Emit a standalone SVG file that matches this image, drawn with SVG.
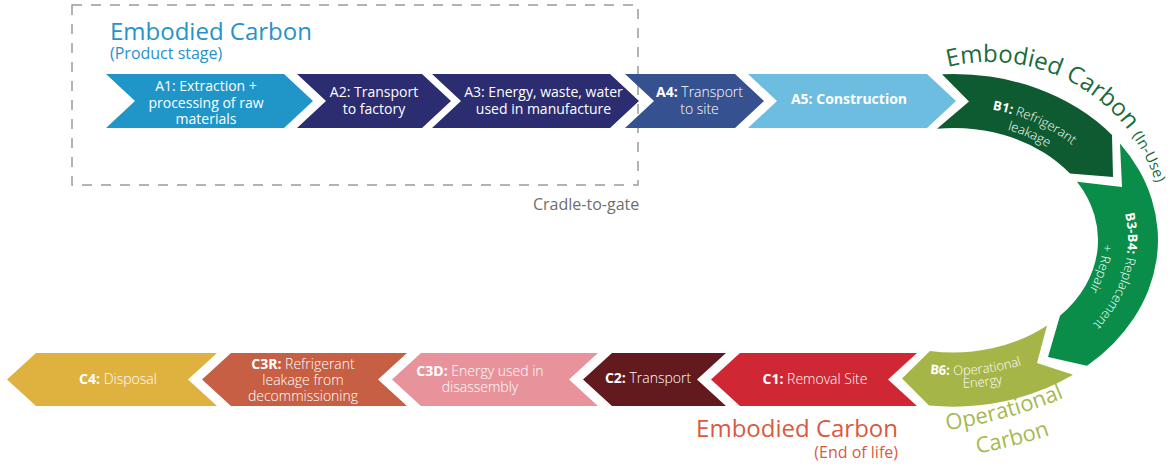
<svg xmlns="http://www.w3.org/2000/svg" width="1175" height="475" viewBox="0 0 1175 475">
<style>
text { font-family: 'Open Sans', 'Liberation Sans', sans-serif; }
.w { fill: #ffffff; font-size: 14px; text-anchor: middle; }
.wa { fill: #ffffff; font-size: 13px; text-anchor: middle; }
.b { font-weight: 700; }
.l { font-weight: 300; }
.big { font-size: 24px; }
.small { font-size: 16px; }
.op { font-size: 22px; fill: #a6b94f; text-anchor: middle; }
</style>
<defs>
<path id="pTitle" d="M948,67.1 A174,174 0 0 1 1159.4,275.5"/>
<path id="pB1a" d="M937.7,106.6 A168,134 0 0 1 1103.9,179.6"/>
<path id="pB1b" d="M941.9,122.4 A151,118 0 0 1 1089.9,188.6"/>
<path id="pB3a" d="M1116.7,190.4 A174,140 0 0 1 1070.4,344.1"/>
<path id="pB3b" d="M1093.3,197.8 A149,119 0 0 1 1053.7,328.4"/>
<path id="pB6a" d="M873,360.5 A180,135 0 0 0 1074.5,340.3"/>
<path id="pB6b" d="M906.1,383.5 A196,148 0 0 0 1057.1,365.9"/>
<path id="pOp1" d="M932.5,432 A500,500 0 0 0 1077.5,392"/>
<path id="pOp2" d="M968.3,454.9 A500,500 0 0 0 1058.7,432.1"/>
</defs>

<g id="cradle-to-gate">
<rect x="72" y="5" width="566" height="180" fill="none" stroke="#9a9a9a" stroke-width="1.5" stroke-dasharray="10 9"/>
<text x="533" y="209.5" font-size="16" fill="#6e6e6e">Cradle-to-gate</text>
</g>

<g id="title-product">
<text x="110" y="40" class="big" fill="#2593c9">Embodied Carbon</text>
<text x="110" y="59" class="small" fill="#2593c9">(Product stage)</text>
</g>

<g id="A1">
<path d="M106,74 H284 L313,101 L284,128 H106 L135,101 Z" fill="#1f95c8"/>
<text class="w" x="206" y="91">A1: Extraction +</text>
<text class="w" x="206" y="107.5">processing of raw</text>
<text class="w" x="206" y="124">materials</text>
</g>
<g id="A2">
<path d="M297,74 H422 L451,101 L422,128 H297 L326,101 Z" fill="#2c2d70"/>
<text class="w" x="374" y="97">A2: Transport</text>
<text class="w" x="374" y="113.5">to factory</text>
</g>
<g id="A3">
<path d="M432,74 H610 L639,101 L610,128 H432 L461,101 Z" fill="#2c2d70"/>
<text class="w" x="543.5" y="97">A3: Energy, waste, water</text>
<text class="w" x="543.5" y="113.5">used in manufacture</text>
</g>
<g id="A4">
<path d="M625,74 H735 L764,101 L735,128 H625 L654,101 Z" fill="#36518f"/>
<text class="w" x="699.5" y="97"><tspan class="b">A4:</tspan><tspan class="l"> Transport</tspan></text>
<text class="w l" x="699.5" y="113.5">to site</text>
</g>
<g id="A5">
<path d="M748,74 H927 L956,101 L927,128 H748 L777,101 Z" fill="#6dbde0"/>
<text class="w b" x="849" y="103.5">A5: Construction</text>
</g>

<g id="title-in-use">
<text fill="#1b6b3a"><textPath href="#pTitle"><tspan font-size="24">Embodied Carbon </tspan><tspan font-size="15">(In-Use)</tspan></textPath></text>
</g>

<g id="B1">
<path d="M942,74.3 A204,166 0 0 1 1112,135 L1113,177 L1070,173.6 A144,112 0 0 0 937,128.8 L969,101.5 Z" fill="#0f5b31"/>
<text class="wa"><textPath href="#pB1a" startOffset="52%"><tspan class="b">B1:</tspan><tspan class="l"> Refrigerant</tspan></textPath></text>
<text class="wa l"><textPath href="#pB1b" startOffset="52%">leakage</textPath></text>
</g>
<g id="B3-B4">
<path d="M1120,143.5 A204,166 0 0 1 1087,365.8 L1048,357 L1060,315.8 A144,112 0 0 0 1077,181.7 L1122,187 Z" fill="#0a8d48"/>
<text class="wa"><textPath href="#pB3a" startOffset="48.5%"><tspan class="b">B3-B4:</tspan><tspan class="l"> Replacement</tspan></textPath></text>
<text class="wa l"><textPath href="#pB3b" startOffset="48.5%">+ Repair</textPath></text>
</g>
<g id="B6">
<path d="M1073,374.8 A204,166 0 0 1 929,405.5 L902,378.5 L930,351 A144,112 0 0 0 1047,325.5 L1037,363 Z" fill="#a6b547"/>
<text class="wa" font-size="13.5"><textPath href="#pB6a" startOffset="50%"><tspan class="b">B6:</tspan><tspan class="l"> Operational</tspan></textPath></text>
<text class="wa l" font-size="13.5"><textPath href="#pB6b" startOffset="50%">Energy</textPath></text>
</g>

<g id="title-operational">
<text class="op"><textPath href="#pOp1" startOffset="50%">Operational</textPath></text>
<text class="op"><textPath href="#pOp2" startOffset="50%">Carbon</textPath></text>
</g>

<g id="C1">
<path d="M740,353 H917 L888,379.5 L917,406 H740 L711,379.5 Z" fill="#cf2733"/>
<text class="w" x="815" y="383.5"><tspan class="b">C1:</tspan><tspan class="l"> Removal Site</tspan></text>
</g>
<g id="C2">
<path d="M612,353 H726 L697,379.5 L726,406 H612 L583,379.5 Z" fill="#631a1f"/>
<text class="w" x="648" y="383"><tspan class="b">C2:</tspan><tspan class="l"> Transport</tspan></text>
</g>
<g id="C3D">
<path d="M421,353 H598 L569,379.5 L598,406 H421 L392,379.5 Z" fill="#e8939b"/>
<text class="w" x="480" y="375.5"><tspan class="b">C3D:</tspan><tspan class="l"> Energy used in</tspan></text>
<text class="w l" x="480" y="391.5">disassembly</text>
</g>
<g id="C3R">
<path d="M231,353 H407 L378,379.5 L407,406 H231 L202,379.5 Z" fill="#c75f44"/>
<text class="w" x="303" y="368.5"><tspan class="b">C3R:</tspan><tspan class="l"> Refrigerant</tspan></text>
<text class="w l" x="303" y="385">leakage from</text>
<text class="w l" x="303" y="401">decommissioning</text>
</g>
<g id="C4">
<path d="M36,353 H217 L188,379.5 L217,406 H36 L7,379.5 Z" fill="#dfb13f"/>
<text class="w" x="118" y="384"><tspan class="b">C4:</tspan><tspan class="l"> Disposal</tspan></text>
</g>

<g id="title-end-of-life">
<text x="898" y="437" class="big" fill="#d85a3f" text-anchor="end">Embodied Carbon</text>
<text x="898" y="458" class="small" fill="#d85a3f" text-anchor="end">(End of life)</text>
</g>
</svg>
